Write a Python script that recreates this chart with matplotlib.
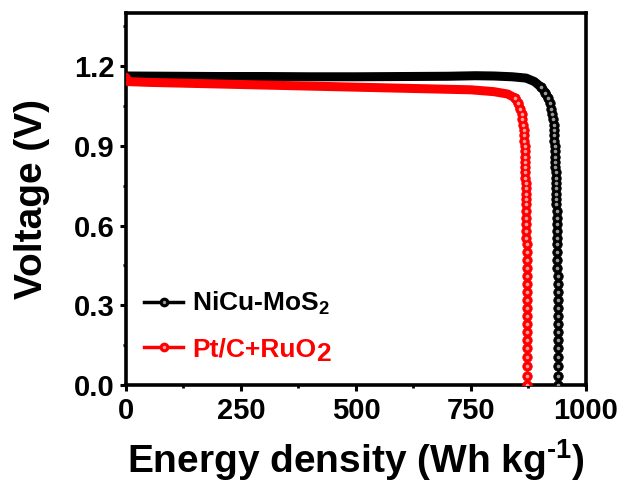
import numpy as np
import matplotlib
matplotlib.use("Agg")
import matplotlib.pyplot as plt
from matplotlib.lines import Line2D
from matplotlib.ticker import MultipleLocator

plt.rcParams['font.family'] = ['Liberation Sans', 'DejaVu Sans']
plt.rcParams['font.weight'] = 'bold'
plt.rcParams['mathtext.fontset'] = 'custom'
plt.rcParams['mathtext.rm'] = 'Liberation Sans:bold'
plt.rcParams['mathtext.it'] = 'Liberation Sans:bold'
plt.rcParams['mathtext.bf'] = 'Liberation Sans:bold'

# NiCu-MoS2: plateau then drop
ni_flat_e = [0, 100, 200, 300, 400, 500, 600, 700, 760, 800, 840, 870, 888]
ni_flat_v = [1.163, 1.162, 1.161, 1.161, 1.160, 1.160, 1.161, 1.162, 1.164, 1.163, 1.160, 1.155, 1.142]
ni_drop_e = [903, 912, 918, 922, 925, 927, 928.5, 929.5, 930.5, 931, 931.5, 932,
             932.5, 933, 933.3, 933.6, 934, 934.3, 934.6, 935, 935.2, 935.5,
             935.8, 936, 936.2, 936.5, 936.8, 937, 937.2, 937.5, 937.7, 938,
             938.2, 938.4, 938.6, 938.8, 939, 939.1, 939.3, 939.4, 939.6, 939.7,
             939.8, 939.9, 940, 940]
ni_drop_v = [1.12, 1.10, 1.08, 1.06, 1.04, 1.02, 1.00, 0.98, 0.96, 0.94, 0.92, 0.90,
             0.88, 0.86, 0.84, 0.82, 0.80, 0.78, 0.76, 0.74, 0.72, 0.70,
             0.68, 0.655, 0.63, 0.605, 0.58, 0.555, 0.53, 0.50, 0.47, 0.44,
             0.41, 0.38, 0.35, 0.32, 0.29, 0.26, 0.23, 0.20, 0.17, 0.14,
             0.105, 0.07, 0.035, 0.0]

# Pt/C+RuO2
pt_flat_e = [0, 4, 50, 150, 250, 350, 450, 550, 650, 750, 800, 830]
pt_flat_v = [1.158, 1.142, 1.139, 1.135, 1.131, 1.127, 1.123, 1.119, 1.115, 1.111, 1.104, 1.095]
pt_drop_e = [846, 853, 857, 860, 862, 863.5, 864.5, 865.3, 866, 866.5, 867, 867.3,
             867.6, 868, 868.2, 868.5, 868.8, 869, 869.2, 869.4, 869.6, 869.8,
             870, 870.2, 870.4, 870.6, 870.8, 871, 871.2, 871.4, 871.5, 871.6,
             871.8, 871.9, 872, 872.1, 872.2, 872.3, 872.4, 872.5, 872.6, 872.7,
             872.8, 872.8]
pt_drop_v = [1.08, 1.06, 1.04, 1.02, 1.00, 0.98, 0.96, 0.94, 0.92, 0.90, 0.88, 0.86,
             0.84, 0.82, 0.80, 0.78, 0.76, 0.74, 0.72, 0.70, 0.68, 0.655,
             0.63, 0.605, 0.58, 0.555, 0.53, 0.50, 0.47, 0.44, 0.41, 0.38,
             0.35, 0.32, 0.29, 0.26, 0.23, 0.20, 0.17, 0.14, 0.105, 0.07,
             0.035, 0.0]

labels = ['NiCu-MoS$_2$', 'Pt/C+RuO']
colors = ['black', '#ff0000']
shine = ['#9a9a9a', '#ffa0a0']

fig = plt.figure(figsize=(6.21, 4.84), dpi=100)
ax = fig.add_axes([0.2029, 0.2045, 0.7407, 0.7686])

series = [(ni_flat_e, ni_flat_v, ni_drop_e, ni_drop_v),
          (pt_flat_e, pt_flat_v, pt_drop_e, pt_drop_v)]
for (fe, fv, de, dv), c, s in zip(series, colors, shine):
    # plateau drawn as a thick band (overlapping beads), drop as separate beads
    ax.plot(fe + de[:3], fv + dv[:3], color=c, lw=6.5, solid_capstyle='round',
            solid_joinstyle='round', zorder=3)
    ax.plot(de, dv, color=c, lw=1.5, marker='o', ms=6.8, mew=0.6, mec=c, zorder=3)
    ax.plot(de, dv, ls='none', marker='o', ms=2.6, mew=0, color=s, zorder=4)

ax.set_xlim(0, 1000)
ax.set_ylim(0, 1.4)
ax.xaxis.set_major_locator(MultipleLocator(250))
ax.xaxis.set_minor_locator(MultipleLocator(125))
ax.yaxis.set_major_locator(MultipleLocator(0.3))
ax.yaxis.set_minor_locator(MultipleLocator(0.15))
ax.yaxis.set_major_formatter(matplotlib.ticker.FormatStrFormatter('%.1f'))
ax.tick_params(which='major', direction='out', length=4.5, width=2.2, labelsize=21, pad=4)
ax.tick_params(which='minor', direction='out', length=2.5, width=2.0)
for sp in ax.spines.values():
    sp.set_linewidth(2.6)

ax.set_xlabel(r'Energy density (Wh kg$^{\text{-1}}$)', fontsize=28, fontweight='bold', labelpad=9)
ax.set_ylabel('Voltage (V)', fontsize=28, fontweight='bold', labelpad=17)

handles = []
for c, s in zip(colors, shine):
    h1 = Line2D([], [], color=c, lw=2.5, marker='o', ms=7, mew=0)
    h2 = Line2D([], [], ls='none', marker='o', ms=2.5, mew=0, color=s)
    handles.append((h1, h2))
leg = ax.legend(handles, labels, loc='lower left', bbox_to_anchor=(0.0, 0.013),
                frameon=False, fontsize=19, handlelength=1.45, handletextpad=0.35,
                labelspacing=0.77, borderaxespad=0.3)
for t, c in zip(leg.get_texts(), colors):
    t.set_color(c)
    t.set_fontweight('bold')
# full-size lowered "2" after RuO, as in the original legend
ax.annotate('2', xy=(1, 0), xycoords=leg.get_texts()[1], xytext=(0.3, -3),
            textcoords='offset points', ha='left', va='bottom', fontsize=19,
            fontweight='bold', color=colors[1], zorder=10)

fig.savefig('out.png', dpi=100)
